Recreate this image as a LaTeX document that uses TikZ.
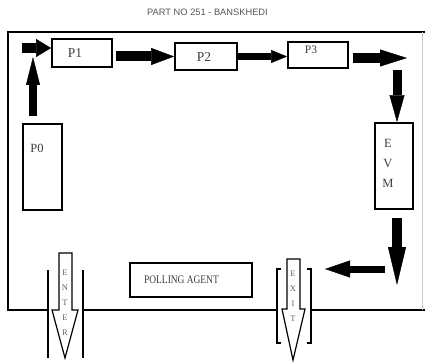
\documentclass[tikz,border=0pt]{standalone}
\usepackage{fontspec}
\setmainfont{Liberation Serif}
\newfontfamily\titrefont{Liberation Sans}
\usepackage{xcolor}
\definecolor{encre}{HTML}{3C3C3C}
\definecolor{titregris}{HTML}{555555}
\definecolor{bordpale}{HTML}{C8C8C8}
\usetikzlibrary{positioning,arrows.meta,calc}

\begin{document}
\begin{tikzpicture}[x=1pt,y=-1pt,
  every node/.style={inner sep=0pt},
  boite/.style 2 args={draw,line width=1.8pt,minimum width=#1,minimum height=#2},
  lbl/.style={text=encre,font=\fontsize{13.5}{13.5}\selectfont},
  petit/.style={text=encre!80,align=center,font=\fontsize{8.5}{15}\selectfont},
  fl/.style n args={3}{line width=#1,-{Triangle[length=#2,width=#3,line width'=0.4pt]}},
  cadre/.style={line width=1.5pt},
  barre/.style={line width=1.1pt},
  creux/.style={draw,line width=1.2pt,fill=white,line join=miter}
]
\useasboundingbox (0,0) rectangle (425,363);

% titre
\node[text=titregris,font=\titrefont\fontsize{9.3}{9.3}\selectfont] (titre) at (207.5,12) {PART NO 251 - BANSKHEDI};

% cadre de la salle
\draw[cadre] (48,310) -- (8,310) -- (8,32) -- (425,32);
\draw[cadre] (83,310) -- (277,310);
\draw[cadre] (311,310) -- (425,310);
\draw[bordpale,line width=1pt] (422.5,32) -- (422.5,310);

% postes
\node[boite={60}{28}] (P1) at (82,53) {};
\node[lbl] (P1t) at (75,53) {P1};
\node[boite={62}{27}] (P2) at (206,56.5) {};
\node[lbl] (P2t) at (204,57) {P2};
\node[boite={60}{26}] (P3) at (318,55) {};
\node[lbl,font=\fontsize{11.5}{11.5}\selectfont] (P3t) at (311,50) {P3};
\node[boite={39}{86}] (P0) at (42.5,167) {};
\node[lbl,font=\fontsize{12.5}{12.5}\selectfont] (P0t) at (37,148) {P0};
\node[boite={38}{86}] (EVM) at (394,166) {};
\node[lbl,align=center,font=\fontsize{12.5}{20}\selectfont] (EVMt) at (388,163) {E\\V\\M};
\node[boite={122}{34}] (agent) at (191,280) {};
\node[lbl,font=\fontsize{11.5}{11.5}\selectfont] (agentt) at (181.5,280) {\scalebox{0.82}[1]{POLLING AGENT}};

% fleches du parcours
\coordinate (c0) at (33,57);
\coordinate (c1) at (22,48);
\coordinate (c2) at (407,58);
\coordinate (c3) at (397,70);
\coordinate (c4) at (397,285);
\coordinate (c5) at (385,269);
\coordinate (c6) at (325,269);
\draw[fl={8pt}{28pt}{14pt},shorten <=7pt] (P0.north -| c0) -- (c0);
\draw[fl={10pt}{15pt}{18pt}] (c1) -- (c1 -| P1.west);
\draw[fl={10pt}{23pt}{17pt},shorten <=3pt] (P1.east |- P2.west) -- (P2.west);
\draw[fl={7pt}{16pt}{13pt}] (P2.east) -- (P3.west |- P2.east);
\draw[fl={10pt}{27pt}{17pt},shorten <=4pt] (P3.east |- c2) -- (c2);
\draw[fl={9pt}{27pt}{15pt}] (c3) -- (c3 |- EVM.north);
\draw[fl={10pt}{38pt}{18pt},shorten <=8pt] (EVM.south -| c4) -- (c4);
\draw[fl={7pt}{25pt}{17pt}] (c5) -- (c6);

% entree
\foreach \x in {48,83}
  \draw[barre] (\x,270) -- (\x,358);
\draw[creux] (59,253) -- (72,253) -- (72,310) -- (78,310) -- (65,358) -- (52,310) -- (59,310) -- cycle;
\node[petit] (enter) at (65,303) {E\\N\\T\\E\\R};

% sortie
\draw[barre] (281,269) -- (277,269) -- (277,343) -- (281,343);
\draw[barre] (307,269) -- (311,269) -- (311,343) -- (307,343);
\draw[creux] (287,259) -- (300,259) -- (300,309) -- (305,309) -- (293,360) -- (282,309) -- (287,309) -- cycle;
\node[petit] (exit) at (293,296.5) {E\\X\\I\\T};
\end{tikzpicture}
\end{document}
